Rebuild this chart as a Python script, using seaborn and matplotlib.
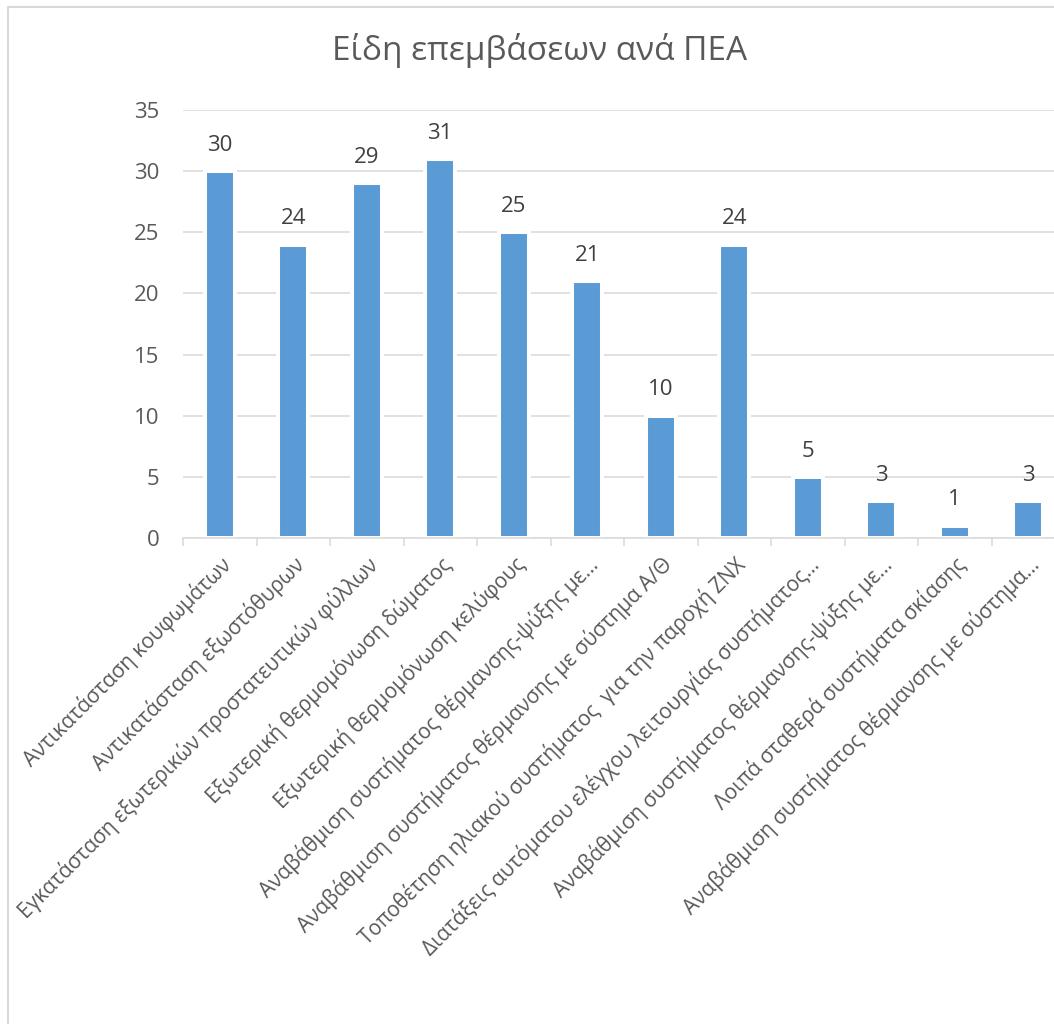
import matplotlib
matplotlib.use("Agg")
import matplotlib.pyplot as plt
from matplotlib.patches import Rectangle
from matplotlib.ticker import FixedLocator, MultipleLocator
import seaborn as sns
import pandas as pd

# Intervention types and number of energy certificates recommending each
categories = [
    "Αντικατάσταση κουφωμάτων",
    "Αντικατάσταση εξωστόθυρων",
    "Εγκατάσταση εξωτερικών προστατευτικών φύλλων",
    "Εξωτερική θερμομόνωση δώματος",
    "Εξωτερική θερμομόνωση κελύφους",
    "Αναβάθμιση συστήματος θέρμανσης-ψύξης με…",
    "Αναβάθμιση συστήματος θέρμανσης με σύστημα Α/Θ",
    "Τοποθέτηση ηλιακού συστήματος  για την παροχή ΖΝΧ",
    "Διατάξεις αυτόματου ελέγχου λειτουργίας συστήματος…",
    "Αναβάθμιση συστήματος θέρμανσης-ψύξης με…",
    "Λοιπά σταθερά συστήματα σκίασης",
    "Αναβάθμιση συστήματος θέρμανσης με σύστημα…",
]
counts = [30, 24, 29, 31, 25, 21, 10, 24, 5, 3, 1, 3]
title = "Είδη επεμβάσεων ανά ΠΕΑ"
y_ticks = [0, 5, 10, 15, 20, 25, 30, 35]

sns.set_theme(style="white")
plt.rcParams["font.family"] = ["Open Sans", "DejaVu Sans"]

TEXT = "#595959"
LABEL = "#404040"
GRID = "#D9D9D9"
BAR = "#5B9BD5"

W, H = 1054, 1024
fig = plt.figure(figsize=(W / 100, H / 100), dpi=100)
ax = fig.add_axes([183 / W, 1 - 538 / H, 882 / W, 428 / H])

# positions keep repeated category names as separate bars
df = pd.DataFrame({"pos": list(range(len(counts))), "count": counts})
sns.barplot(data=df, x="pos", y="count", color=BAR, saturation=1,
            width=0.41, edgecolor="white", linewidth=2.9, ax=ax, zorder=2)

ax.set_ylim(0, 35)
ax.set_xlim(-0.5, len(counts) - 0.5)
ax.yaxis.set_major_locator(FixedLocator(y_ticks))
ax.set_axisbelow(True)
ax.grid(axis="y", color=GRID, linewidth=1.1)
ax.grid(axis="x", visible=False)

for s in ["top", "right", "left"]:
    ax.spines[s].set_visible(False)
ax.spines["bottom"].set_color(GRID)
ax.spines["bottom"].set_linewidth(1.1)
ax.spines["bottom"].set_zorder(3)

ax.set_xlabel("")
ax.set_ylabel("")
ax.set_xticks(range(len(categories)))
ax.set_xticklabels(categories, rotation=45, ha="right",
                   rotation_mode="anchor", fontsize=15, color=TEXT)
ax.tick_params(axis="x", which="major", length=0, pad=11)
ax.xaxis.set_minor_locator(MultipleLocator(1, offset=0.5))
ax.tick_params(axis="x", which="minor", bottom=True, length=6,
               width=1.1, color=GRID)
ax.tick_params(axis="y", length=0, pad=17, labelsize=16, labelcolor=TEXT)

for bar, v in zip(ax.patches, counts):
    ax.annotate(str(v), (bar.get_x() + bar.get_width() / 2, v),
                xytext=(0, 11), textcoords="offset points",
                ha="center", va="bottom", fontsize=16, color=LABEL)

fig.text(540 / W, 1 - 50 / H, title, ha="center", va="center",
         fontsize=24, color=TEXT)

# chart area frame
fig.patches.append(Rectangle((8 / W, -0.1), 2, (H - 7) / H + 0.1,
                             transform=fig.transFigure, fill=False,
                             edgecolor=GRID, linewidth=1.5))

fig.savefig("out.png", dpi=100, facecolor="white")
